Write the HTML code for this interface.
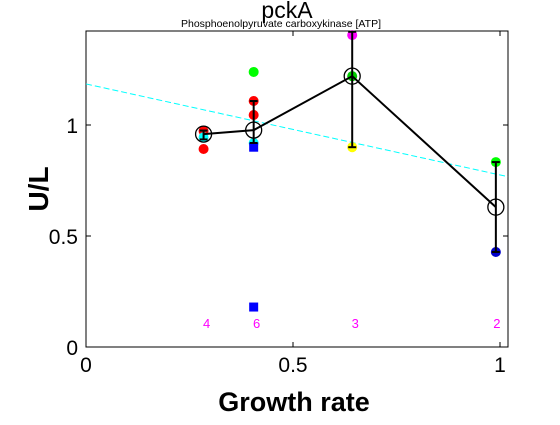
<!DOCTYPE html>
<html><head><meta charset="utf-8"><style>
body{margin:0;background:#fff;}
text{font-family:"Liberation Sans",sans-serif;}
</style></head><body>
<svg id="chart" width="560" height="420" xmlns="http://www.w3.org/2000/svg">
<rect x="0" y="0" width="560" height="420" fill="#fff"/>
<text x="287" y="18" font-size="23" text-anchor="middle">pckA</text>
<text x="281" y="27" font-size="10.5" text-anchor="middle">Phosphoenolpyruvate carboxykinase [ATP]</text>
<g id="plot"></g>
<text x="294" y="411" font-size="27" font-weight="bold" text-anchor="middle">Growth rate</text>
<text transform="translate(48,189) rotate(-90)" font-size="28" font-weight="bold" text-anchor="middle">U/L</text>
</svg>
<script>
const groupX=[0.284,0.405,0.643,0.99];
const groupMean=[0.959,0.977,1.22,0.63];
const errLow=[0.935,0.919,0.90,0.428];
const errHigh=[0.975,1.108,1.42,0.833];
const counts=["4","6","3","2"];
const ptX=[0.284,0.284,0.284,0.405,0.405,0.405,0.405,0.643,0.643,0.643,0.99,0.99];
const ptY=[0.973,0.892,0.945,1.239,1.108,1.045,0.919,1.405,1.22,0.90,0.833,0.428];
const ptColor=["#f00","#f00","#0ff","#0f0","#f00","#f00","#0ff","#f0f","#0c0","#ff0","#0f0","#00c"];
const sqX=[0.405,0.405];
const sqY=[0.90,0.18];
const fitY0=1.185, fitSlope=-0.41;
const xTicks=[0,0.5,1];
const yTicks=[0,0.5,1];
const L=86,R=508,T=31,B=347;
const sx=v=>L+v*414, sy=v=>B-v*222;
const NS="http://www.w3.org/2000/svg";
const g=document.getElementById('plot');
function el(tag,attrs,parent){const e=document.createElementNS(NS,tag);for(const k in attrs)e.setAttribute(k,attrs[k]);(parent||g).appendChild(e);return e;}
let e;
e=el('rect',{x:L,y:T,width:R-L,height:B-T,fill:'none',stroke:'#000'});


xTicks.forEach(v=>{
 el('line',{x1:sx(v),x2:sx(v),y1:B,y2:B-5,stroke:'#000'});
 el('line',{x1:sx(v),x2:sx(v),y1:T,y2:T+5,stroke:'#000'});
 const t=el('text',{x:sx(v),y:B+25,'font-size':21,'text-anchor':'middle'});t.textContent=v;
 
 
});
yTicks.forEach(v=>{
 el('line',{x1:L,x2:L+5,y1:sy(v),y2:sy(v),stroke:'#000'});
 el('line',{x1:R,x2:R-5,y1:sy(v),y2:sy(v),stroke:'#000'});
 const t=el('text',{x:L-8,y:sy(v)+8,'font-size':21,'text-anchor':'end'});t.textContent=v;
 
 
});
e=el('line',{x1:sx(0),y1:sy(fitY0),x2:R,y2:sy(fitY0+fitSlope*((R-L)/414)),stroke:'#0ff','stroke-dasharray':'6,3'});


ptX.forEach((x,i)=>{
 const c=el('circle',{cx:sx(x),cy:sy(ptY[i]),r:5,fill:ptColor[i]});
 
 
});
sqX.forEach((x,i)=>{
 const r=el('rect',{x:sx(x)-4.5,y:sy(sqY[i])-4.5,width:9,height:9,fill:'#00f'});
 
 
});
groupX.forEach((x,i)=>{
 const gx=sx(x);
 const l=el('line',{x1:gx,x2:gx,y1:sy(errHigh[i]),y2:sy(errLow[i]),stroke:'#000','stroke-width':2});
 
 
 el('line',{x1:gx-4,x2:gx+4,y1:sy(errHigh[i]),y2:sy(errHigh[i]),stroke:'#000','stroke-width':2});
 el('line',{x1:gx-4,x2:gx+4,y1:sy(errLow[i]),y2:sy(errLow[i]),stroke:'#000','stroke-width':2});
});
e=el('polyline',{points:groupX.map((x,i)=>sx(x)+','+sy(groupMean[i])).join(' '),fill:'none',stroke:'#000','stroke-width':2});


groupX.forEach((x,i)=>{
 const c=el('circle',{cx:sx(x),cy:sy(groupMean[i]),r:8,fill:'none',stroke:'#000','stroke-width':1.3});
 
 
 const t=el('text',{x:sx(x)+(i==3?1:3),y:328,'font-size':13,fill:'#f0f','text-anchor':'middle'});t.textContent=counts[i];
 
 
});
</script>
</body></html>
